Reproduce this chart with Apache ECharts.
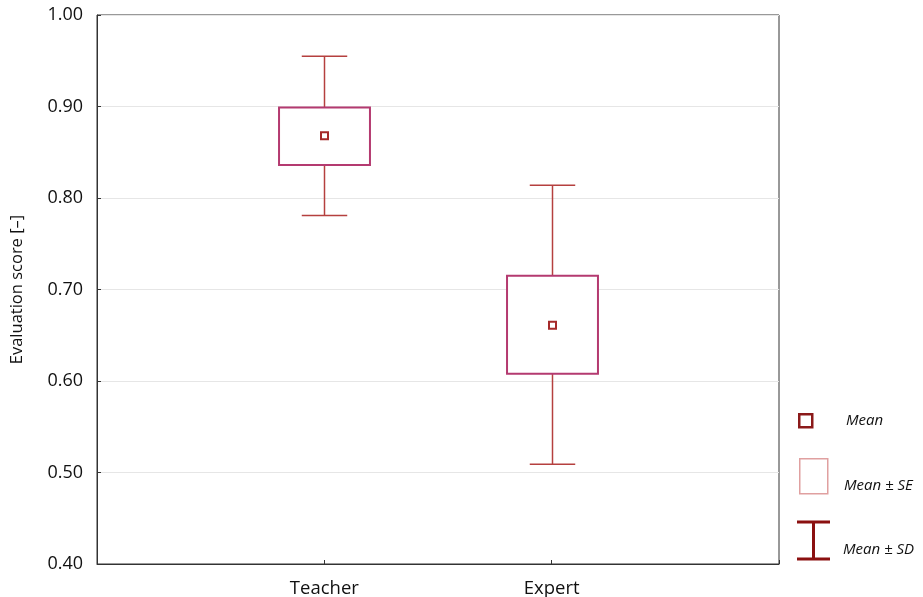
<!DOCTYPE html>
<html>
<head>
<meta charset="utf-8">
<script src="https://cdn.jsdelivr.net/npm/echarts@6/dist/echarts.min.js"></script>
<style>html,body{margin:0;padding:0;background:#fff;}#c{width:923px;height:597px;}</style>
</head>
<body>
<div id="c"></div>
<script>
var categories = ['', 'Teacher', 'Expert', ''];
var groups = ['Teacher', 'Expert'];
var sdLow  = [0.781, 0.509];
var seLow  = [0.836, 0.608];
var means  = [0.868, 0.661];
var seHigh = [0.899, 0.715];
var sdHigh = [0.955, 0.814];
var yTicks = [0.4, 0.5, 0.6, 0.7, 0.8, 0.9, 1.0];

var data = groups.map(function (g, i) {
  return [categories.indexOf(g), sdLow[i], seLow[i], means[i], seHigh[i], sdHigh[i]];
});

var FONT = '"Open Sans", Lato, sans-serif';
var chart = echarts.init(document.getElementById('c'));
chart.setOption({
  animation: false,
  backgroundColor: '#fff',
  grid: { left: 97, right: 144, top: 15, bottom: 33, containLabel: false, outerBoundsMode: 'none',
    show: true, borderColor: '#333', borderWidth: 1, backgroundColor: 'transparent' },
  xAxis: {
    type: 'category', data: categories, boundaryGap: false,
    axisLine: { lineStyle: { color: '#333' } },
    axisTick: { inside: true, length: 4, lineStyle: { color: '#333' } },
    axisLabel: { fontFamily: FONT, fontSize: 18.5, color: '#111', margin: 15 },
    splitLine: { show: false }
  },
  yAxis: {
    type: 'value', min: 0.4, max: 1.0, interval: 0.1,
    name: 'Evaluation score [–]', nameLocation: 'middle', nameGap: 71,
    nameTextStyle: { fontFamily: FONT, fontSize: 16.5, color: '#111' },
    axisLine: { show: true, lineStyle: { color: '#333' } },
    axisTick: { show: true, inside: true, length: 4, lineStyle: { color: '#333' } },
    axisLabel: { fontFamily: FONT, fontSize: 18, color: '#111', margin: 14,
      formatter: function (v) { return v.toFixed(2); } },
    splitLine: { show: true, lineStyle: { color: '#e6e6e6' } }
  },
  series: [{
    type: 'custom',
    data: data,
    encode: { x: 0, y: [1, 2, 3, 4, 5] },
    renderItem: function (params, api) {
      var x = api.value(0);
      var band = api.size([1, 0])[0];
      var bw = band * 0.4, cw = band * 0.2;
      var pSdL = api.coord([x, api.value(1)]);
      var pSeL = api.coord([x, api.value(2)]);
      var pM = api.coord([x, api.value(3)]);
      var pSeH = api.coord([x, api.value(4)]);
      var pSdH = api.coord([x, api.value(5)]);
      var cx = Math.round(pM[0]) + 0.5;
      var wStyle = { stroke: '#b5403f', lineWidth: 1.5 };
      return {
        type: 'group',
        children: [
          { type: 'line', shape: { x1: cx, y1: pSdH[1], x2: cx, y2: pSeH[1] }, style: wStyle },
          { type: 'line', shape: { x1: cx, y1: pSeL[1], x2: cx, y2: pSdL[1] }, style: wStyle },
          { type: 'line', shape: { x1: cx - cw / 2, y1: pSdH[1], x2: cx + cw / 2, y2: pSdH[1] }, style: wStyle },
          { type: 'line', shape: { x1: cx - cw / 2, y1: pSdL[1], x2: cx + cw / 2, y2: pSdL[1] }, style: wStyle },
          { type: 'rect', shape: { x: cx - bw / 2, y: pSeH[1], width: bw, height: pSeL[1] - pSeH[1] },
            style: { fill: '#fff', stroke: '#b43a70', lineWidth: 2 } },
          { type: 'rect', shape: { x: cx - 3.5, y: pM[1] - 3.5, width: 7, height: 7 },
            style: { fill: '#fff', stroke: '#a52a2a', lineWidth: 2 } }
        ]
      };
    }
  }],
  graphic: [
    { type: 'rect', left: 798, top: 413, shape: { width: 13, height: 13 }, style: { fill: '#fff', stroke: '#8b1a1a', lineWidth: 2.5 } },
    { type: 'text', left: 846, top: 413, style: { text: 'Mean', font: 'italic 15px ' + FONT, fill: '#111' } },
    { type: 'rect', left: 799, top: 458, shape: { width: 28, height: 35 }, style: { fill: '#fff', stroke: '#e0a0a0', lineWidth: 1.5 } },
    { type: 'text', left: 844, top: 478, style: { text: 'Mean ± SE', font: 'italic 15px ' + FONT, fill: '#111' } },
    { type: 'line', shape: { x1: 797, y1: 522, x2: 830, y2: 522 }, style: { stroke: '#8b1010', lineWidth: 3 } },
    { type: 'line', shape: { x1: 813.5, y1: 522, x2: 813.5, y2: 559 }, style: { stroke: '#8b1010', lineWidth: 3 } },
    { type: 'line', shape: { x1: 797, y1: 559, x2: 830, y2: 559 }, style: { stroke: '#8b1010', lineWidth: 3 } },
    { type: 'text', left: 843, top: 542, style: { text: 'Mean ± SD', font: 'italic 15px ' + FONT, fill: '#111' } }
  ]
});
</script>
</body>
</html>
